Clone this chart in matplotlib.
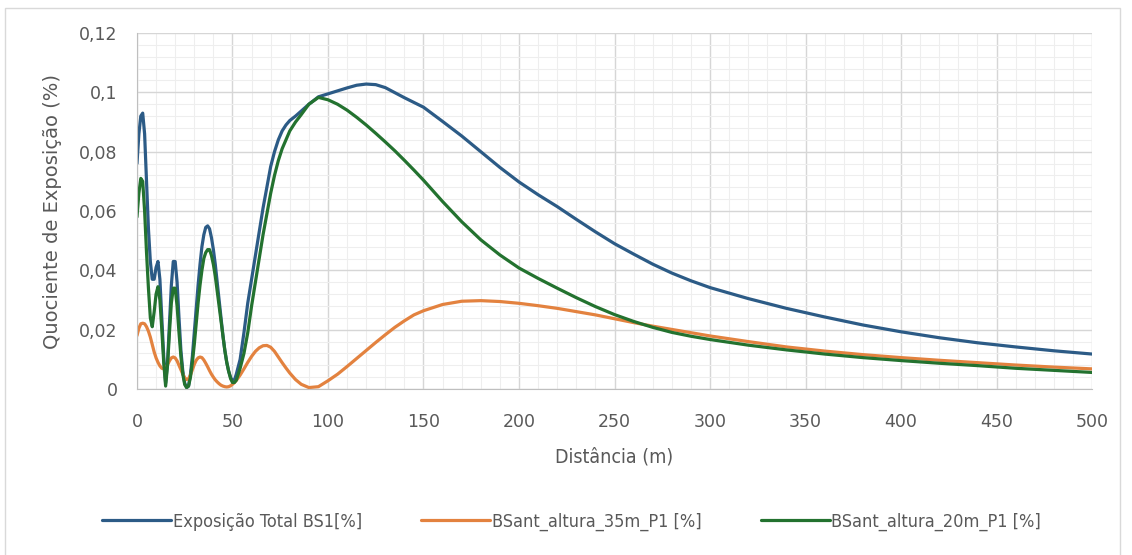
import matplotlib
matplotlib.use("Agg")
import matplotlib.pyplot as plt
from matplotlib.ticker import MultipleLocator, FuncFormatter
from matplotlib.patches import Rectangle

# distance (m)
distancia = [0, 1, 2, 3, 4, 5, 6, 7, 8, 9, 10, 11, 12, 13, 14, 15, 16, 17, 18, 19,
             20, 21, 22, 23, 24, 25, 26, 27, 28, 29, 30, 31, 32, 33, 34, 35, 36, 37, 38, 39,
             40, 41, 42, 43, 44, 45, 46, 47, 48, 49, 50, 51, 52,
             54, 56, 58, 60, 62, 64, 66, 68, 70, 72, 74, 76, 78, 80,
             83, 86, 90, 95,
             100, 105, 110, 115, 120, 125, 130, 135, 140, 145, 150,
             160, 170, 180, 190, 200, 210, 220, 230, 240, 250, 260, 270, 280, 290, 300,
             320, 340, 360, 380, 400, 420, 440, 460, 480, 500]

total_bs1 = [0.076, 0.086, 0.092, 0.093, 0.086, 0.070, 0.054, 0.043, 0.037, 0.037,
             0.041, 0.043, 0.037, 0.024, 0.011, 0.002, 0.009, 0.022, 0.035, 0.043,
             0.043, 0.036, 0.024, 0.013, 0.006, 0.002, 0.0005, 0.001, 0.005, 0.011,
             0.019, 0.027, 0.035, 0.042, 0.048, 0.052, 0.0545, 0.055, 0.054, 0.051,
             0.047, 0.042, 0.036, 0.030, 0.024, 0.018, 0.013, 0.009, 0.006, 0.004,
             0.0028, 0.003, 0.005,
             0.010, 0.019, 0.029, 0.037, 0.045, 0.053, 0.061, 0.068, 0.075, 0.080,
             0.084, 0.087, 0.089, 0.0905,
             0.092, 0.0937, 0.096, 0.0985,
             0.0995, 0.1005, 0.1015, 0.1024, 0.1028, 0.1026, 0.1016, 0.0999, 0.0982, 0.0966, 0.0950,
             0.0902, 0.0853, 0.0800, 0.0747, 0.0698, 0.0655, 0.0615, 0.0572, 0.0530, 0.0490,
             0.0455, 0.0421, 0.0391, 0.0365, 0.0342,
             0.0305, 0.0272, 0.0243, 0.0216, 0.0193, 0.0173, 0.0156, 0.0142, 0.0129, 0.0118]

altura_35m = [0.018, 0.0205, 0.022, 0.0222, 0.022, 0.021, 0.0195, 0.0175, 0.015, 0.0125,
              0.0105, 0.009, 0.0078, 0.007, 0.0068, 0.0072, 0.0082, 0.0095, 0.0105, 0.0108,
              0.0105, 0.0095, 0.008, 0.0065, 0.005, 0.0038, 0.0032, 0.0035, 0.0047, 0.0065,
              0.0083, 0.0097, 0.0105, 0.0108, 0.0106, 0.0098, 0.0087, 0.0075, 0.0062, 0.005,
              0.004, 0.0031, 0.0024, 0.0018, 0.0013, 0.001, 0.0008, 0.0007, 0.0008, 0.0011,
              0.0016, 0.0022, 0.0029,
              0.0047, 0.0068, 0.0090, 0.0110, 0.0127, 0.0139, 0.0146, 0.0147, 0.0141, 0.0127,
              0.0108, 0.0089, 0.0071, 0.0054,
              0.0032, 0.0016, 0.0005, 0.0008,
              0.0028, 0.0050, 0.0076, 0.0103, 0.0130, 0.0157, 0.0183, 0.0208, 0.0230, 0.0250, 0.0264,
              0.0285, 0.0296, 0.0298, 0.0295, 0.0289, 0.0281, 0.0272, 0.0261, 0.0250, 0.0237,
              0.0224, 0.0212, 0.0201, 0.0190, 0.0179,
              0.0160, 0.0142, 0.0128, 0.0116, 0.0106, 0.0097, 0.0089, 0.0081, 0.0074, 0.0068]

altura_20m = [0.058, 0.066, 0.071, 0.070, 0.060, 0.046, 0.034, 0.024, 0.021, 0.026,
              0.032, 0.0345, 0.030, 0.020, 0.009, 0.001, 0.008, 0.019, 0.029, 0.034,
              0.034, 0.028, 0.019, 0.011, 0.005, 0.0015, 0.0005, 0.001, 0.004, 0.009,
              0.015, 0.022, 0.029, 0.035, 0.040, 0.044, 0.046, 0.047, 0.047, 0.045,
              0.042, 0.038, 0.033, 0.028, 0.023, 0.018, 0.013, 0.009, 0.006, 0.0035,
              0.0022, 0.0022, 0.003,
              0.007, 0.012, 0.019, 0.028, 0.036, 0.044, 0.052, 0.059, 0.066, 0.072,
              0.077, 0.081, 0.084, 0.087,
              0.090, 0.0925, 0.096, 0.0983,
              0.0975, 0.0960, 0.0940, 0.0916, 0.0890, 0.0862, 0.0833, 0.0803, 0.0771, 0.0738, 0.0704,
              0.0632, 0.0564, 0.0503, 0.0452, 0.0408, 0.0373, 0.0340, 0.0308, 0.0278, 0.0251,
              0.0228, 0.0208, 0.0191, 0.0178, 0.0167,
              0.0148, 0.0132, 0.0118, 0.0106, 0.0096, 0.0087, 0.0079, 0.0070, 0.0063, 0.0056]

series_names = ["Exposição Total BS1[%]", "BSant_altura_35m_P1 [%]", "BSant_altura_20m_P1 [%]"]
series_colors = ["#2C5B86", "#E3823F", "#23722F"]

text_gray = "#595959"

fig = plt.figure(figsize=(11.32, 5.55), dpi=100)
ax = fig.add_axes([0.121, 0.299, 0.9647 - 0.121, 0.9405 - 0.299])

# outer chart frame
fig.patches.append(Rectangle((5 / 1132, -0.01), 1115 / 1132, 1 - 8 / 555 + 0.01,
                             transform=fig.transFigure, fill=False,
                             edgecolor="#D9D9D9", linewidth=1.0))

for vals, name, col in zip([total_bs1, altura_35m, altura_20m], series_names, series_colors):
    ax.plot(distancia, vals, color=col, linewidth=2.3, label=name,
            solid_joinstyle="round", solid_capstyle="round")

ax.set_xlim(0, 500)
ax.set_ylim(0, 0.12)
ax.xaxis.set_major_locator(MultipleLocator(50))
ax.xaxis.set_minor_locator(MultipleLocator(10))
ax.yaxis.set_major_locator(MultipleLocator(0.02))
ax.yaxis.set_minor_locator(MultipleLocator(0.004))
ax.yaxis.set_major_formatter(FuncFormatter(lambda v, p: "0" if abs(v) < 1e-9 else ("%g" % round(v, 3)).replace(".", ",")))

ax.grid(which="major", color="#D6D6D6", linewidth=1.0)
ax.grid(which="minor", color="#EEEEEE", linewidth=0.8)
ax.set_axisbelow(True)

for s in ["top", "right"]:
    ax.spines[s].set_visible(False)
ax.spines["left"].set_color("#BFBFBF")
ax.spines["bottom"].set_color("#BFBFBF")

ax.tick_params(which="both", length=0)
ax.tick_params(axis="x", pad=17, labelsize=12.5, labelcolor=text_gray)
ax.tick_params(axis="y", pad=14, labelsize=12.5, labelcolor=text_gray)

ax.set_xlabel("Distância (m)", fontsize=14, color=text_gray, labelpad=12,
              fontstretch="condensed")
ax.set_ylabel("Quociente de Exposição (%)", fontsize=14, color=text_gray, labelpad=12)

leg = fig.legend(loc="center", bbox_to_anchor=(0.505, 0.06), ncol=3, frameon=False,
                 handlelength=3.8, handletextpad=0.1, columnspacing=3.3,
                 prop={"family": "DejaVu Sans", "stretch": "condensed", "size": 13})
for t in leg.get_texts():
    t.set_color(text_gray)

fig.savefig("out.png", dpi=100, facecolor="white")
